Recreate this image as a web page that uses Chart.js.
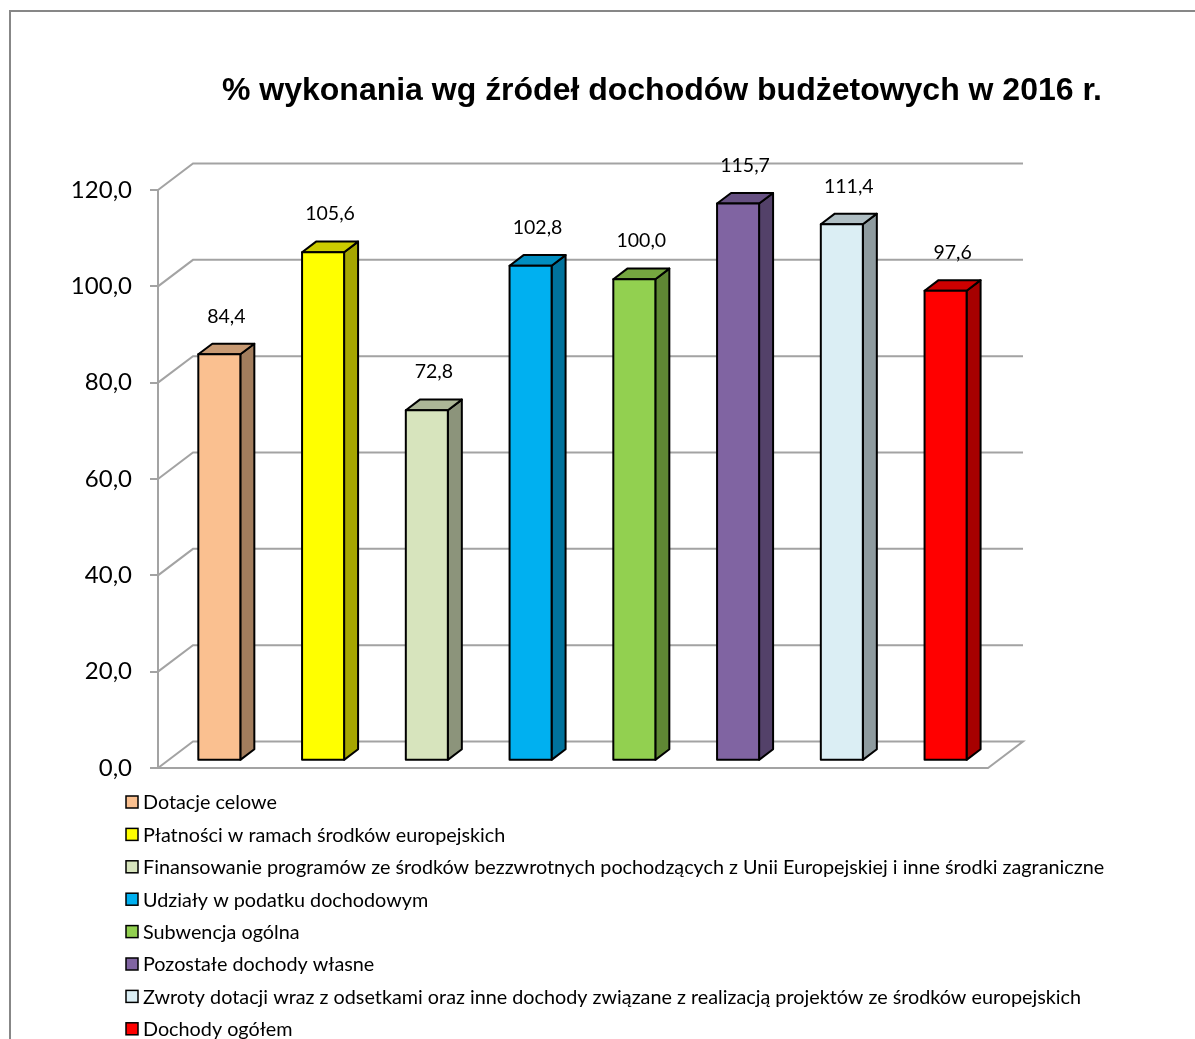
<!DOCTYPE html>
<html><head><meta charset="utf-8">
<script src="https://cdn.jsdelivr.net/npm/chart.js@4.4.1/dist/chart.umd.min.js"></script>
<style>
html,body{margin:0;padding:0;background:#fff;overflow:hidden;}
#wrap{position:relative;width:1195px;height:1039px;}
</style></head><body>
<div id="wrap"><canvas id="c"></canvas></div>
<script>
const titleText = '% wykonania wg źródeł dochodów budżetowych w 2016 r.';
const categories = [
  'Dotacje celowe',
  'Płatności w ramach środków europejskich',
  'Finansowanie programów ze środków bezzwrotnych pochodzących z Unii Europejskiej i inne środki zagraniczne',
  'Udziały w podatku dochodowym',
  'Subwencja ogólna',
  'Pozostałe dochody własne',
  'Zwroty dotacji wraz z odsetkami oraz inne dochody związane z realizacją projektów ze środków europejskich',
  'Dochody ogółem'
];
const values = [84.4, 105.6, 72.8, 102.8, 100.0, 115.7, 111.4, 97.6];
const yTicks = [0, 20, 40, 60, 80, 100, 120];

const frontColors = ['#FAC090', '#FFFF00', '#D7E4BD', '#00B0F0', '#92D050', '#8064A2', '#DBEEF4', '#FF0000'];
const topColors   = ['#C89A73', '#CCCC00', '#ACB697', '#008DC0', '#75A640', '#665082', '#AFBEC3', '#CC0000'];
const sideColors  = ['#A27D5D', '#A6A600', '#8C947B', '#00729C', '#5F8734', '#534169', '#8E9B9F', '#A60000'];

const FONT = 'Lato, "Open Sans", sans-serif';
const fmt = v => v.toFixed(1).replace('.', ',');
const DX = 35, DY = -26.5;          // depth of the 3D box
const Z0 = 0.27, Z1 = 0.67;         // bar front/back depth fractions

const excel3d = {
  id: 'excel3d',
  beforeDraw(chart) {
    const ctx = chart.ctx;
    ctx.save();
    ctx.fillStyle = '#fff';
    ctx.fillRect(0, 0, chart.width, chart.height);
    ctx.strokeStyle = '#878787';
    ctx.lineWidth = 2;
    ctx.beginPath();
    ctx.moveTo(10, chart.height + 2);
    ctx.lineTo(10, 11);
    ctx.lineTo(chart.width + 2, 11);
    ctx.stroke();
    // title
    ctx.font = 'bold 32px "Liberation Sans", Arial, sans-serif';
    const w = ctx.measureText(titleText).width;
    ctx.translate(662, 100);
    ctx.scale(880 / w, 1);
    ctx.fillStyle = '#000';
    ctx.textAlign = 'center';
    ctx.textBaseline = 'alphabetic';
    ctx.fillText(titleText, 0, 0);
    ctx.restore();
  },
  beforeDatasetsDraw(chart) {
    const ctx = chart.ctx;
    const {left, right} = chart.chartArea;
    const ys = chart.scales.y;
    ctx.save();
    ctx.strokeStyle = '#a3a3a3';
    ctx.lineWidth = 2;
    ctx.lineJoin = 'miter';
    yTicks.forEach(v => {
      const y = ys.getPixelForValue(v);
      ctx.beginPath();
      ctx.moveTo(left, y);
      ctx.lineTo(left + DX, y + DY);
      ctx.lineTo(right + DX, y + DY);
      if (v === 0) { ctx.lineTo(right, y); ctx.lineTo(left - 8, y); }
      ctx.stroke();
    });
    ctx.restore();
  },
  beforeDatasetDraw() { return false; },
  afterDatasetsDraw(chart) {
    const ctx = chart.ctx;
    const ox = DX * Z0, oy = DY * Z0;
    const dx = DX * (Z1 - Z0), dy = DY * (Z1 - Z0);
    ctx.save();
    ctx.lineWidth = 2;
    ctx.lineJoin = 'round';
    ctx.strokeStyle = '#000';
    chart.data.datasets.forEach((ds, i) => {
      const el = chart.getDatasetMeta(i).data[0];
      const p = el.getProps(['x', 'y', 'base', 'width'], true);
      const L = p.x - p.width / 2 + ox, R = p.x + p.width / 2 + ox;
      const T = p.y + oy, B = p.base + oy;
      // side
      ctx.beginPath();
      ctx.moveTo(R, B); ctx.lineTo(R + dx, B + dy); ctx.lineTo(R + dx, T + dy); ctx.lineTo(R, T); ctx.closePath();
      ctx.fillStyle = sideColors[i]; ctx.fill(); ctx.stroke();
      // top
      ctx.beginPath();
      ctx.moveTo(L, T); ctx.lineTo(L + dx, T + dy); ctx.lineTo(R + dx, T + dy); ctx.lineTo(R, T); ctx.closePath();
      ctx.fillStyle = topColors[i]; ctx.fill(); ctx.stroke();
      // front
      ctx.beginPath();
      ctx.rect(L, T, R - L, B - T);
      ctx.fillStyle = frontColors[i]; ctx.fill(); ctx.stroke();
      // value label
      ctx.fillStyle = '#000';
      ctx.font = '19.5px ' + FONT;
      ctx.textAlign = 'center';
      ctx.textBaseline = 'middle';
      ctx.fillText(fmt(ds.data[0]), p.x + ox + 7, T - 38);
    });
    ctx.restore();
  },
  afterDraw(chart) {
    const ctx = chart.ctx;
    ctx.save();
    ctx.font = '19.8px ' + FONT;
    ctx.textAlign = 'left';
    ctx.textBaseline = 'middle';
    chart.data.datasets.forEach((ds, i) => {
      const yc = 802 + i * 32.4;
      ctx.fillStyle = frontColors[i];
      ctx.fillRect(126, yc - 6, 12, 12);
      ctx.strokeStyle = '#000';
      ctx.lineWidth = 1.5;
      ctx.strokeRect(126, yc - 6, 12, 12);
      ctx.fillStyle = '#000';
      ctx.fillText(ds.label, 143, yc + 1);
    });
    ctx.restore();
  }
};

const datasets = categories.map((name, i) => ({
  label: name,
  data: [values[i]],
  backgroundColor: frontColors[i],
  borderColor: '#000',
  borderWidth: 2
}));

new Chart(document.getElementById('c'), {
  type: 'bar',
  data: { labels: [''], datasets },
  options: {
    responsive: true,
    maintainAspectRatio: false,
    animation: false,
    layout: { padding: { left: 10, top: 190, right: 207, bottom: 271 } },
    datasets: { bar: { categoryPercentage: 1.0, barPercentage: 0.405 } },
    plugins: { legend: { display: false }, title: { display: false }, tooltip: { enabled: false } },
    scales: {
      x: { display: false },
      y: {
        min: 0, max: 120,
        afterBuildTicks(scale) { scale.ticks = yTicks.map(v => ({ value: v })); },
        afterFit(scale) { scale.width = 148; },
        border: { display: true, color: '#a3a3a3', width: 2 },
        grid: { drawOnChartArea: false, drawTicks: true, tickLength: 8, color: '#a3a3a3', lineWidth: 2 },
        ticks: {
          padding: 18,
          color: '#000',
          font: { family: FONT, size: 24 },
          callback: v => fmt(v)
        }
      }
    }
  },
  plugins: [excel3d]
});
</script>
</body></html>
